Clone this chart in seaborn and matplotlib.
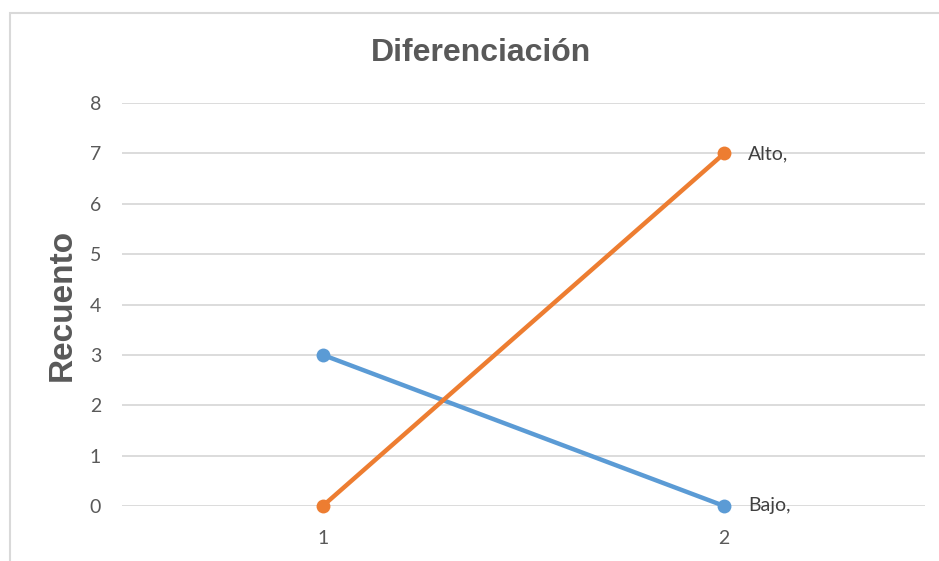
import matplotlib
matplotlib.use("Agg")
import matplotlib.pyplot as plt
from matplotlib.patches import Rectangle
import seaborn as sns
import pandas as pd

# Data
categories = [1, 2]
bajo = [3, 0]
alto = [0, 7]
series_names = ["Bajo", "Alto"]
series_colors = {"Bajo": "#5B9BD5", "Alto": "#ED7D31"}
y_ticks = [0, 1, 2, 3, 4, 5, 6, 7, 8]

df = pd.DataFrame({
    "pos": list(range(len(categories))) * 2,
    "Recuento": bajo + alto,
    "serie": ["Bajo"] * len(bajo) + ["Alto"] * len(alto),
})

sns.set_theme(style="white")
plt.rcParams["font.family"] = ["Lato", "DejaVu Sans"]

W, H = 939, 561
fig = plt.figure(figsize=(W / 100, H / 100), dpi=100)
ax = fig.add_axes([122 / W, 55 / H, (925 - 122) / W, (458 - 55) / H])

# Chart-area frame
fig.patches.append(Rectangle((10 / W, -0.1), 1.2, (561 - 13) / H + 0.1,
                             transform=fig.transFigure, fill=False,
                             edgecolor="#D9D9D9", linewidth=1.5, zorder=0))

sns.lineplot(data=df, x="pos", y="Recuento", hue="serie", palette=series_colors,
             hue_order=series_names, ax=ax, linewidth=3.2, marker="o",
             markersize=10, markeredgewidth=0, legend=False)
for line in ax.lines:
    line.set_clip_on(False)

for name, vals in (("Bajo", bajo), ("Alto", alto)):
    ax.annotate(f"{name},", xy=(len(categories) - 1, vals[-1]),
                xytext=(17, 0), textcoords="offset points",
                ha="left", va="center", fontsize=14, color="#404040")

ax.set_xlim(-0.5, len(categories) - 0.5)
ax.set_ylim(0, 8)
ax.set_yticks(y_ticks)
ax.set_xticks(range(len(categories)))
ax.set_xticklabels([str(c) for c in categories])
ax.grid(axis="y", color="#D9D9D9", linewidth=1.3)
ax.set_axisbelow(True)
for s in ax.spines.values():
    s.set_visible(False)
ax.tick_params(axis="both", length=0, labelsize=14, colors="#595959")
ax.tick_params(axis="y", pad=15)
ax.tick_params(axis="x", pad=17)

ax.set_xlabel("")
ax.set_ylabel("")
fig.text(62 / W, 1 - 305 / H, "Recuento", rotation=90, ha="center", va="center",
         fontsize=24, fontweight="bold", color="#595959",
         family=["Liberation Sans", "DejaVu Sans"])
fig.text(481 / W, 1 - 53 / H, "Diferenciación", ha="center", va="center",
         fontsize=23, fontweight="bold", color="#595959",
         family=["Liberation Sans", "DejaVu Sans"])

fig.savefig("out.png", dpi=100)
